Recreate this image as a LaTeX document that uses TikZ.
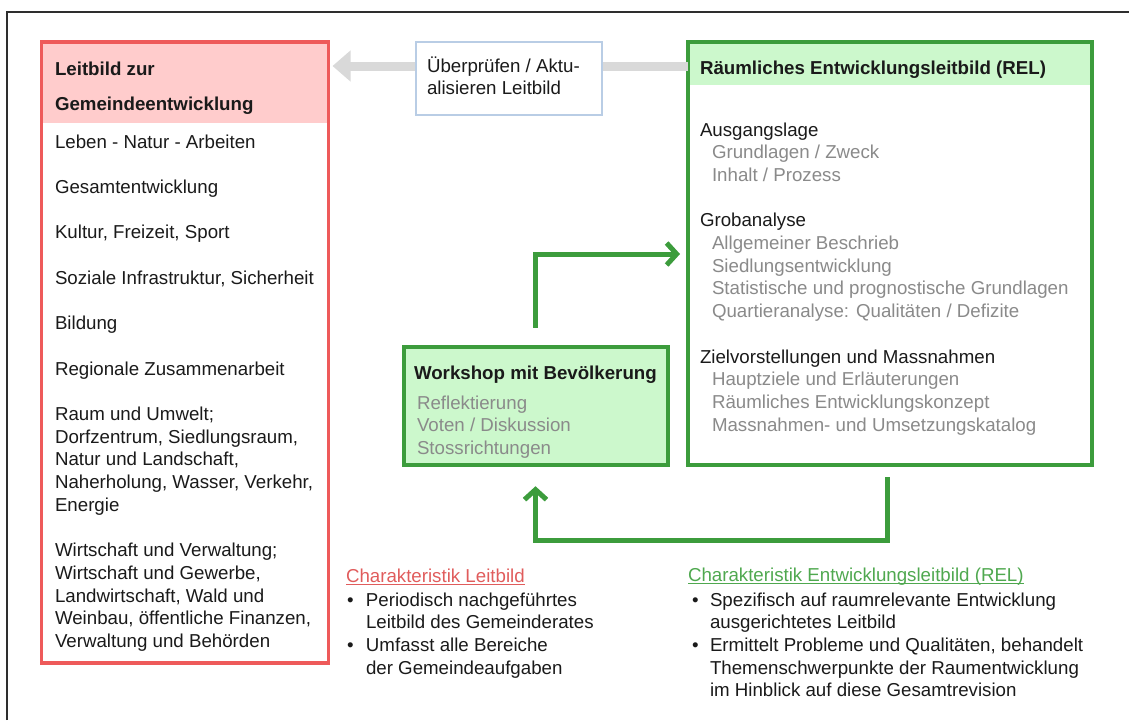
\documentclass[tikz,border=0pt]{standalone}
\usepackage{fontspec}
\setmainfont{Liberation Sans}
\usetikzlibrary{arrows.meta,calc}

\definecolor{txt}{HTML}{1A1A1A}
\definecolor{subgray}{HTML}{8A8A8A}
\definecolor{framec}{HTML}{2E2E2E}
\definecolor{redc}{HTML}{EE5A5A}
\definecolor{pinkc}{HTML}{FFCCCC}
\definecolor{greenc}{HTML}{3C9C3C}
\definecolor{lightgreen}{HTML}{CCF8CC}
\definecolor{bluegray}{HTML}{B9CDE5}
\definecolor{arrowgray}{HTML}{D9D9D9}
\definecolor{redtitle}{HTML}{E05C5C}
\definecolor{greentitle}{HTML}{4FA84F}

% indented grey sub-entry
\newcommand\greyline[1]{\hspace*{12pt}\textcolor{subgray}{#1}}
% bullet and bullet-width indent for the characteristic lists
\newcommand\bul{\makebox[19pt][l]{•}}
\newcommand\nobul{\hspace*{19pt}}
% underline at a fixed distance below the baseline
\newcommand\ulfix[1]{\setbox0\hbox{#1}\rlap{\rule[-2.6pt]{\wd0}{1.1pt}}\box0}

\begin{document}
\begin{tikzpicture}[x=1pt,y=-1pt,
  every node/.style={inner sep=0pt, outer sep=0pt, text=txt,
    font=\fontsize{18.7}{22.7}\selectfont},
  % text blocks are placed by the baseline of their last line
  txtblock/.style={anchor=base west, align=left},
  frameline/.style={draw=framec, line width=1.4pt},
  redbox/.style={draw=redc, line width=3.5pt, fill=white,
    minimum width=287pt, minimum height=621pt,
    path picture={\fill[pinkc] (path picture bounding box.north west)
      rectangle ([yshift=-81pt]path picture bounding box.north east);}},
  relbox/.style={draw=greenc, line width=4pt, fill=white,
    minimum width=404pt, minimum height=423pt,
    path picture={\fill[lightgreen] (path picture bounding box.north west)
      rectangle ([yshift=-43pt]path picture bounding box.north east);}},
  wsbox/.style={draw=greenc, line width=4pt, fill=lightgreen,
    minimum width=264pt, minimum height=118.5pt},
  updbox/.style={draw=bluegray, line width=1.5pt, fill=white,
    minimum width=186pt, minimum height=73pt},
  grayarrow/.style={draw=arrowgray, line width=9pt,
    -{Triangle[width=30pt,length=18pt]}},
  garrow/.style={draw=greenc, line width=5pt,
    -{Straight Barb[length=10pt,width=22pt]}},
]
\useasboundingbox (0,0) rectangle (1129,720);

% outer frame (only top and left edges fall on the page)
\draw[frameline] (7,720) -- (7,12) -- (1129,12);

% main boxes
\node[redbox] (lb) at (185,352.5) {};
\node[relbox] (rel) at (890,253.5) {};
\node[wsbox] (ws) at (535.5,406) {};

% review arrow running behind the review box
\draw[grayarrow] ([yshift=-24pt]rel.north west) -- ([xshift=4pt,yshift=-24pt]lb.north east);
\node[updbox] (upd) at (509,78.5) {};

% feedback loop
\draw[garrow] ([yshift=19pt]ws.north) |- ([xshift=-8pt,yshift=-212pt]rel.north west);
\draw[garrow] ([xshift=-3pt,yshift=-12pt]rel.south) -- ([xshift=-3pt,yshift=-75pt]rel.south)
  -| ([yshift=-21pt]ws.south);

% Leitbild box
\node[txtblock] (lbhead) at (55,110) {\bfseries Leitbild zur\\[12.3pt]\bfseries Gemeindeentwicklung};
\node[txtblock] (lbbody) at (55,647.4) {Leben - Natur - Arbeiten\\ \\
Gesamtentwicklung\\ \\
Kultur, Freizeit, Sport\\ \\
Soziale Infrastruktur, Sicherheit\\ \\
Bildung\\ \\
Regionale Zusammenarbeit\\ \\
Raum und Umwelt;\\ Dorfzentrum, Siedlungsraum,\\ Natur und Landschaft,\\
Naherholung, Wasser, Verkehr,\\ Energie\\ \\
Wirtschaft und Verwaltung;\\ Wirtschaft und Gewerbe,\\ Landwirtschaft, Wald und\\
Weinbau, öffentliche Finanzen,\\ Verwaltung und Behörden};

% review box text
\node[txtblock] (updtext) at (427,94.7) {Überprüfen / Aktu-\\alisieren Leitbild};

% REL box
\node[txtblock] (relhead) at (700,74) {\bfseries Räumliches Entwicklungsleitbild (REL)};
\node[txtblock] (relbody) at (700,431.1) {Ausgangslage\\
\greyline{Grundlagen / Zweck}\\
\greyline{Inhalt / Prozess}\\ \\
Grobanalyse\\
\greyline{Allgemeiner Beschrieb}\\
\greyline{Siedlungsentwicklung}\\
\greyline{Statistische und prognostische Grundlagen}\\
\greyline{Quartieranalyse: Qualitäten / Defizite}\\ \\
Zielvorstellungen und Massnahmen\\
\greyline{Hauptziele und Erläuterungen}\\
\greyline{Räumliches Entwicklungskonzept}\\
\greyline{Massnahmen- und Umsetzungskatalog}};

% workshop box
\node[txtblock] (wshead) at (414,379) {\bfseries Workshop mit Bevölkerung};
\node[txtblock, text=subgray] (wsbody) at (417,454.4) {Reflektierung\\ Voten / Diskussion\\ Stossrichtungen};

% characteristics
\node[txtblock, text=redtitle] (chl) at (346,582) {\ulfix{Charakteristik Leitbild}};
\node[txtblock] (chlbody) at (347,674.1) {\bul Periodisch nachgeführtes\\
\nobul Leitbild des Gemeinderates\\
\bul Umfasst alle Bereiche\\
\nobul der Gemeindeaufgaben};

\node[txtblock, text=greentitle] (chr) at (688,581) {\ulfix{Charakteristik Entwicklungsleitbild (REL)}};
\node[txtblock] (chrbody) at (692,696.8) {\makebox[18pt][l]{•}Spezifisch auf raumrelevante Entwicklung\\
\hspace*{18pt}ausgerichtetes Leitbild\\
\makebox[18pt][l]{•}Ermittelt Probleme und Qualitäten, behandelt\\
\hspace*{18pt}Themenschwerpunkte der Raumentwicklung\\
\hspace*{18pt}im Hinblick auf diese Gesamtrevision};
\end{tikzpicture}
\end{document}
